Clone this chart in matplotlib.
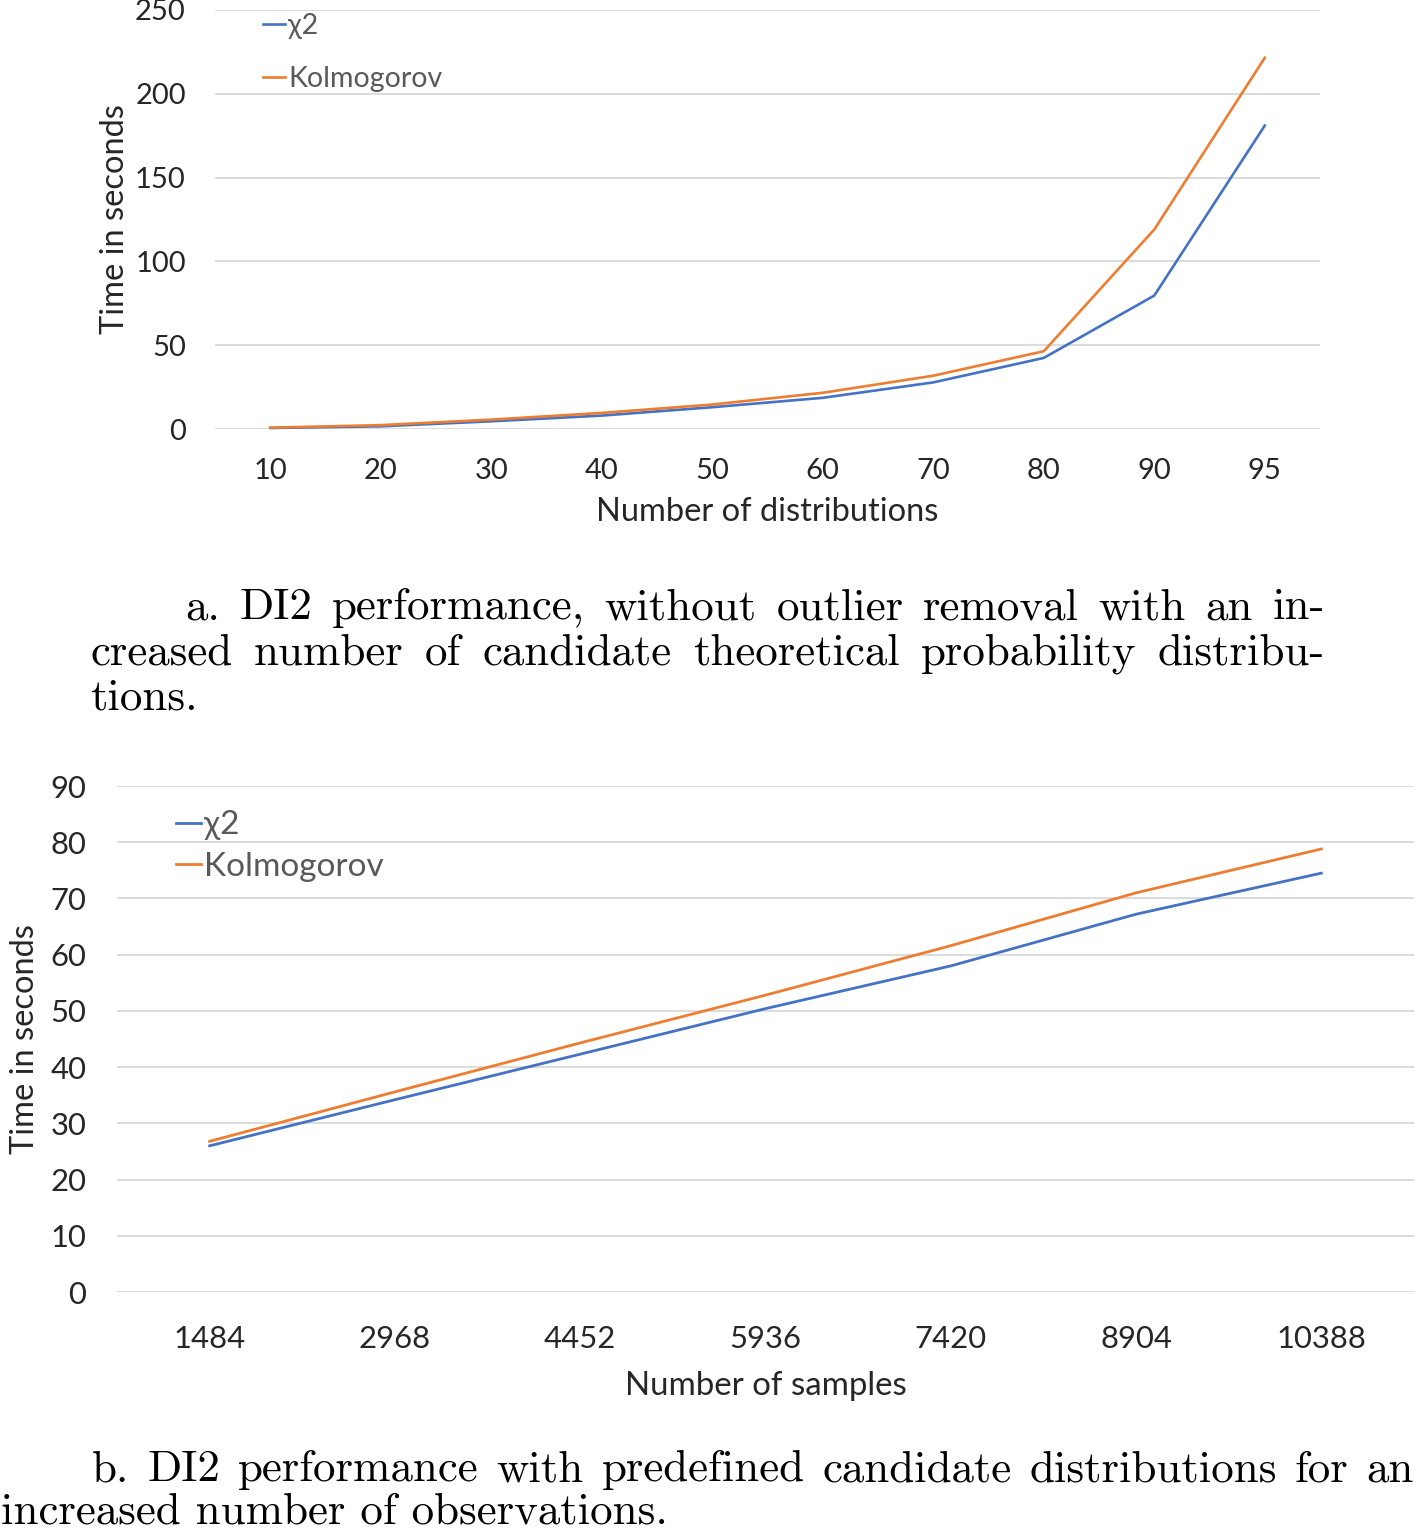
import matplotlib
matplotlib.use("Agg")
import matplotlib.pyplot as plt

# ---------------- data ----------------
dist_labels = ["10", "20", "30", "40", "50", "60", "70", "80", "90", "95"]
chi2_dist = [0.6, 1.6, 4.6, 8.0, 13.0, 18.6, 27.8, 42.4, 79.6, 181.0]
kolm_dist = [0.8, 2.3, 5.6, 9.6, 14.6, 21.6, 31.8, 46.4, 119.0, 221.5]

sample_labels = ["1484", "2968", "4452", "5936", "7420", "8904", "10388"]
chi2_samp = [26.0, 34.2, 42.3, 50.4, 58.0, 67.2, 74.5]
kolm_samp = [26.8, 35.6, 44.3, 52.8, 61.6, 71.0, 78.8]

caption_a = ["a. DI2 performance, without outlier removal with an in-",
             "creased number of candidate theoretical probability distribu-",
             "tions."]
caption_b = ["b. DI2 performance with predefined candidate distributions for an",
             "increased number of observations."]

BLUE = "#4472C4"
ORANGE = "#ED7D31"
GRID = "#D9D9D9"
SANS = ["Lato", "DejaVu Sans"]
W, H = 1416, 1531

fig = plt.figure(figsize=(W / 100, H / 100), dpi=100)


def px_axes(l, t, r, b):
    return fig.add_axes([l / W, 1 - b / H, (r - l) / W, (b - t) / H])


def style(ax, labels, ylim, yticks, fs, xpad, ypad):
    ax.set_xlim(-0.5, len(labels) - 0.5)
    ax.set_ylim(*ylim)
    ax.set_xticks(range(len(labels)))
    ax.set_xticklabels(labels)
    ax.set_yticks(yticks)
    for s in ax.spines.values():
        s.set_visible(False)
    ax.tick_params(length=0, labelsize=fs, colors="#000000")
    ax.tick_params(axis="x", pad=xpad)
    ax.tick_params(axis="y", pad=ypad)
    for t in ax.get_xticklabels() + ax.get_yticklabels():
        t.set_fontfamily(SANS)
        t.set_color("#262626")
    ax.grid(axis="y", color=GRID, linewidth=1.3)
    ax.set_axisbelow(True)


# ---------------- top chart ----------------
ax1 = px_axes(215, 10, 1320, 429)
x1 = list(range(len(dist_labels)))
ax1.plot(x1, chi2_dist, color=BLUE, lw=1.9, label="χ2", clip_on=False)
ax1.plot(x1, kolm_dist, color=ORANGE, lw=1.9, label="Kolmogorov", clip_on=False)
style(ax1, dist_labels, (0, 250), range(0, 251, 50), 21, 21, 21)
ax1.set_xlabel("Number of distributions", fontsize=23.5, family=SANS, color="#262626", va="center")
ax1.xaxis.set_label_coords(0.5, (429 - 512) / 419)
ax1.set_ylabel("Time in seconds", fontsize=23.5, family=SANS, color="#262626", va="center", ha="center")
ax1.yaxis.set_label_coords((115 - 215) / 1105, 0.5)
leg1 = ax1.legend(loc="upper left", bbox_to_anchor=((252 - 215) / 1105, 1.0 + 8 / 419),
                  frameon=False, handlelength=0.75, handletextpad=0.12,
                  labelspacing=0.95, borderaxespad=0, prop={"family": SANS, "size": 20.5})
for t in leg1.get_texts():
    t.set_color("#595959")

# ---------------- bottom chart ----------------
ax2 = px_axes(117, 786, 1414, 1292)
x2 = list(range(len(sample_labels)))
ax2.plot(x2, chi2_samp, color=BLUE, lw=2.0, label="χ2")
ax2.plot(x2, kolm_samp, color=ORANGE, lw=2.0, label="Kolmogorov")
style(ax2, sample_labels, (0, 90), range(0, 91, 10), 22.3, 24, 22)
ax2.set_xlabel("Number of samples", fontsize=23.8, family=SANS, color="#262626", va="center")
ax2.xaxis.set_label_coords(0.5, (1292 - 1386) / 506)
ax2.set_ylabel("Time in seconds", fontsize=23.5, family=SANS, color="#262626", va="center", ha="center")
ax2.yaxis.set_label_coords((25 - 117) / 1297, 0.5)
leg2 = ax2.legend(loc="upper left", bbox_to_anchor=((163 - 117) / 1297, 1.0 - 11 / 506),
                  frameon=False, handlelength=0.75, handletextpad=0.08,
                  labelspacing=0.35, borderaxespad=0, prop={"family": SANS, "size": 24})
for t in leg2.get_texts():
    t.set_color("#595959")

# ---------------- captions (justified, LaTeX-like) ----------------
CAP_FS = 32.4
renderer = fig.canvas.get_renderer()


def put_line(text, x0, y, x1=None):
    if x1 is None:
        fig.text(x0 / W, 1 - y / H, text, family="cmr10", fontsize=CAP_FS,
                 ha="left", va="baseline")
        return
    words = text.split(" ")
    objs = [fig.text(0, 1 - y / H, w, family="cmr10", fontsize=CAP_FS,
                     ha="left", va="baseline") for w in words]
    widths = [o.get_window_extent(renderer).width for o in objs]
    gap = (x1 - x0 - sum(widths)) / max(len(words) - 1, 1)
    x = x0
    for o, wd in zip(objs, widths):
        o.set_x(x / W)
        x += wd + gap


put_line(caption_a[0], 185, 619, 1325)
put_line(caption_a[1], 90, 664, 1325)
put_line(caption_a[2], 90, 709)
put_line(caption_b[0], 92, 1481, 1414)
put_line(caption_b[1], 1, 1524)

fig.savefig("out.png", dpi=100)
